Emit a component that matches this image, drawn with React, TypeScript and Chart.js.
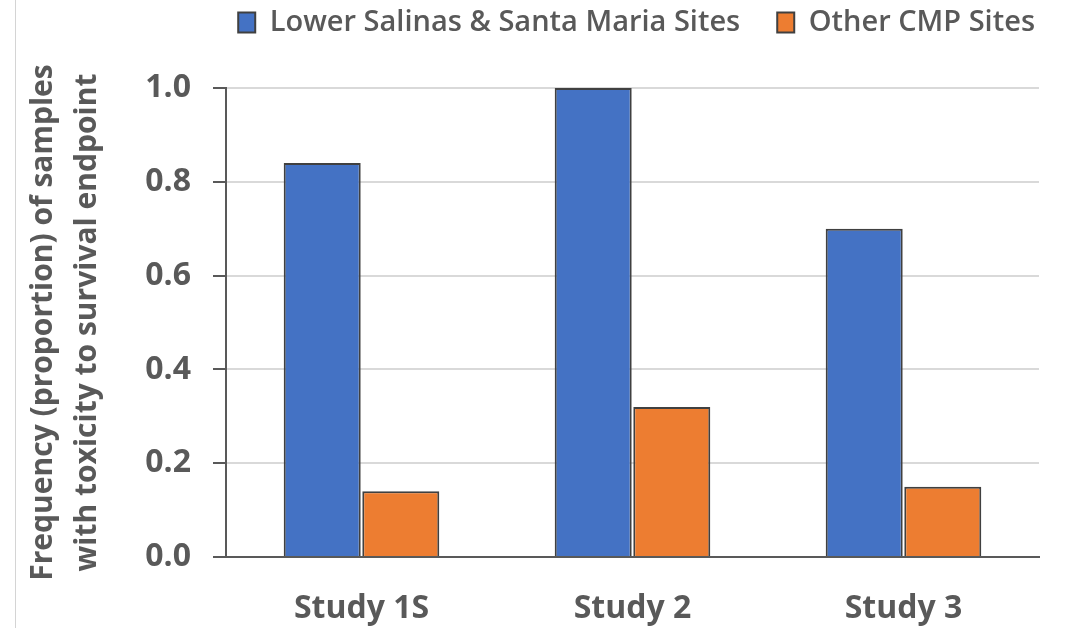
import { useEffect, useRef } from "react";
import { Chart, registerables } from "chart.js";

Chart.register(...registerables);

// Study categories on the x axis
const categories = ["Study 1S", "Study 2", "Study 3"];

// Series names and their frequency values
const seriesNames = ["Lower Salinas & Santa Maria Sites", "Other CMP Sites"];
const lowerSalinasValues = [0.84, 1.0, 0.7];
const otherCmpValues = [0.14, 0.32, 0.15];

// Y axis range and tick step
const yMin = 0;
const yMax = 1;
const yStep = 0.2;

// Two-line y axis title
const yTitleLines = [
  "Frequency (proportion) of samples",
  "with toxicity to survival endpoint",
];

const TEXT_COLOR = "#595959";
const AXIS_COLOR = "#595959";
const GRID_COLOR = "#d9d9d9";
const BAR_BORDER = "#404040";
const FONT = "'Open Sans', 'Liberation Sans', sans-serif";

const WIDTH = 1066;
const HEIGHT = 628;

// Moves the legend row up into the top margin and nudges it right
const legendPlacement = {
  id: "legendPlacement",
  afterLayout(chart: any) {
    const lg = chart.legend;
    if (!lg) return;
    const dy = -41;
    const dx = 33;
    lg.top += dy;
    lg.bottom += dy;
    lg.left += dx;
    lg.right += dx;
  },
};

export default function App() {
  const canvasRef = useRef<HTMLCanvasElement | null>(null);

  useEffect(() => {
    const canvas = canvasRef.current;
    if (!canvas) return;

    const chart = new Chart(canvas, {
      type: "bar",
      data: {
        labels: categories,
        datasets: [
          {
            label: seriesNames[0],
            data: lowerSalinasValues,
            backgroundColor: "#4472C4",
            borderColor: BAR_BORDER,
            borderWidth: 2,
          },
          {
            label: seriesNames[1],
            data: otherCmpValues,
            backgroundColor: "#ED7D31",
            borderColor: BAR_BORDER,
            borderWidth: 2,
          },
        ],
      },
      options: {
        responsive: false,
        animation: false,
        devicePixelRatio: 1,
        layout: { padding: { top: 12, left: 0, right: 27, bottom: 0 } },
        datasets: {
          bar: { categoryPercentage: 0.58, barPercentage: 0.98 },
        },
        plugins: {
          tooltip: { enabled: false },
          legend: {
            position: "top",
            align: "end",
            labels: {
              color: TEXT_COLOR,
              font: { family: FONT, size: 29, weight: "600" },
              boxWidth: 17,
              boxHeight: 20,
              padding: 37,
            },
          },
        },
        scales: {
          x: {
            grid: { display: false, drawTicks: false },
            border: { display: true, color: AXIS_COLOR, width: 2 },
            ticks: {
              color: TEXT_COLOR,
              font: { family: FONT, size: 32, weight: "bold" },
              padding: 33,
            },
            afterFit(scale: any) {
              scale.height = 71;
            },
          },
          y: {
            min: yMin,
            max: yMax,
            grid: {
              color: GRID_COLOR,
              lineWidth: 2,
              tickColor: AXIS_COLOR,
              tickLength: 13,
              tickWidth: 2,
            },
            border: { display: true, color: AXIS_COLOR, width: 2 },
            ticks: {
              stepSize: yStep,
              color: TEXT_COLOR,
              font: { family: FONT, size: 32, weight: "bold" },
              padding: 22,
              callback: (v: any) => Number(v).toFixed(1),
            },
            title: {
              display: true,
              text: yTitleLines,
              color: TEXT_COLOR,
              font: { family: FONT, size: 30, weight: "bold", lineHeight: 1.47 },
              padding: { top: 21, bottom: 0 },
            },
            afterFit(scale: any) {
              scale.width = 226;
            },
          },
        },
      },
      plugins: [legendPlacement],
    });

    return () => chart.destroy();
  }, []);

  return (
    <div
      style={{
        position: "fixed",
        left: 0,
        top: 0,
        width: WIDTH,
        height: HEIGHT,
        background: "#ffffff",
      }}
    >
      <div
        style={{
          position: "absolute",
          left: 15,
          top: 0,
          width: 1,
          height: HEIGHT,
          background: "#d4d4d4",
        }}
      />
      <canvas
        ref={canvasRef}
        width={WIDTH}
        height={HEIGHT}
        style={{ position: "absolute", left: 0, top: 0 }}
      />
    </div>
  );
}
